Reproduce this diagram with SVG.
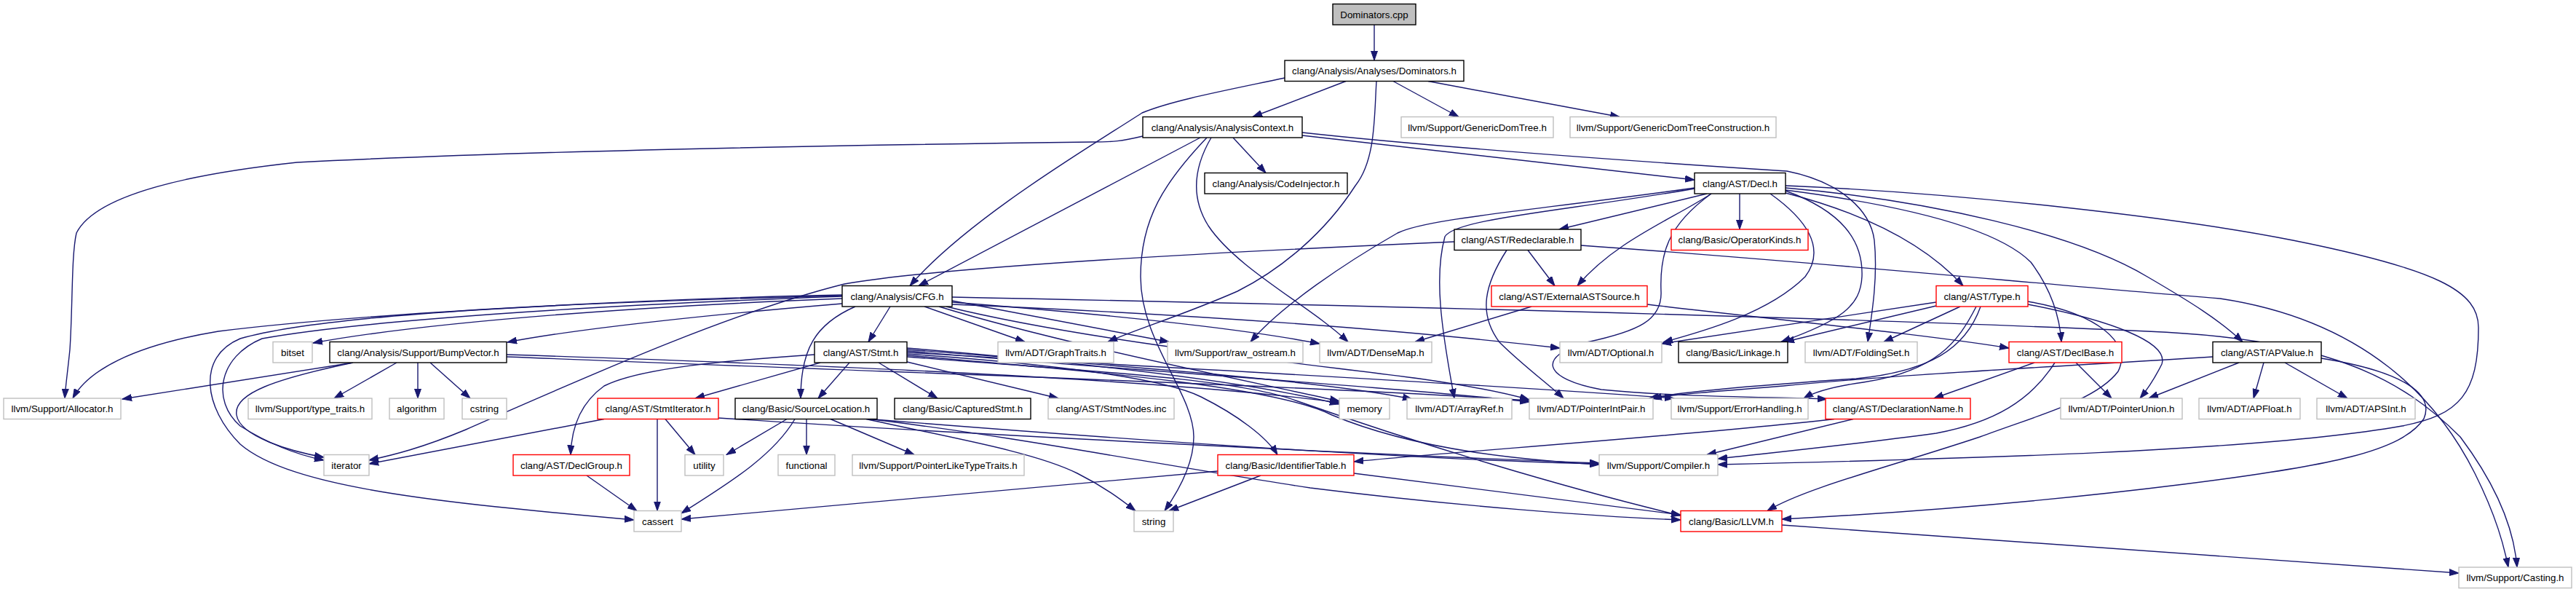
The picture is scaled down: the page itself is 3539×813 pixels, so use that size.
<svg xmlns="http://www.w3.org/2000/svg" width="3539" height="813" viewBox="0 0 3539 813">
<defs>
<marker id="a" markerWidth="14" markerHeight="10" refX="13" refY="5" orient="auto" markerUnits="userSpaceOnUse"><path d="M0,0.5 L13,5 L0,9.5 z" fill="#191970" stroke="#191970" stroke-width="1"/></marker>
</defs>
<style>
.e{fill:none;stroke:#191970;stroke-width:1.4;marker-end:url(#a)}
rect{fill:#fff;stroke-width:1.4}
.k rect{stroke:#000}
.g rect{stroke:#bfbfbf}
.r rect{stroke:#ff0000}
.root rect{fill:#bfbfbf;stroke:#000}
text{font-family:"Liberation Sans",Arial,Helvetica,sans-serif;font-size:13.33px;fill:#000;text-anchor:middle}
</style>
<rect x="0" y="0" width="3539" height="813" style="fill:#fff;stroke:none"/>
<g id="edges">
<path class="e" d="M1888,34 L1888,83"/>
<path class="e" d="M1849,111.5 L1721,160.5"/>
<path class="e" d="M1765,107 C1680,125 1610,138 1569,155 C1500,200 1330,300 1250,392.5"/>
<path class="e" d="M1649,189 L1262,392.5"/>
<path class="e" d="M1891,111.5 C1888,160 1890,220 1862,255 C1820,320 1760,370 1700,400 C1620,435 1560,452 1522,469.5"/>
<path class="e" d="M1914,111.5 L2004,160.5"/>
<path class="e" d="M1962,111.5 L2225,160.5"/>
<path class="e" d="M1694,189 L1739,237.5"/>
<path class="e" d="M1789,186 L2328,247"/>
<path class="e" d="M1789,182 C2000,205 2300,225 2455,235 C2530,250 2570,290 2575,330 C2580,380 2572,430 2566,469.5"/>
<path class="e" d="M1570,187 C1540,194 1530,195 1500,195 C1100,200 700,208 408,223 C250,240 130,270 105,320 C98,350 100,420 96,480 C93,510 90,530 89,547"/>
<path class="e" d="M1658,189 C1600,250 1567,300 1567,380 C1567,470 1640,540 1640,600 C1640,640 1615,680 1600,701.5"/>
<path class="e" d="M1664,189 C1640,230 1635,270 1660,310 C1700,370 1800,420 1852,469.5"/>
<path class="e" d="M2345,266 L2142,315"/>
<path class="e" d="M2390,266 L2390,315"/>
<path class="e" d="M2351,266 C2300,300 2220,330 2167,392.5"/>
<path class="e" d="M2099,343.5 L2136,392.5"/>
<path class="e" d="M2328,258 C2100,290 1960,300 1920,320 C1850,360 1760,420 1718,469.5"/>
<path class="e" d="M2328,259 C2150,290 2000,300 1985,325 C1970,380 1980,450 1998,547"/>
<path class="e" d="M2351,266 C2290,310 2280,350 2282,400 C2284,440 2250,455 2180,470 C2110,490 2120,520 2200,535 C2300,545 2420,545 2510,548"/>
<path class="e" d="M2432,266 C2480,300 2510,340 2480,380 C2430,430 2340,455 2285,470"/>
<path class="e" d="M2453,262 C2530,290 2560,330 2558,380 C2556,420 2530,440 2447,469.5"/>
<path class="e" d="M2453,265 C2550,290 2640,330 2697,392.5"/>
<path class="e" d="M2453,261 C2600,280 2740,310 2790,360 C2820,400 2830,440 2832,469.5"/>
<path class="e" d="M2453,258 C2650,275 2850,320 2950,380 C3010,415 3050,440 3081,469.5"/>
<path class="e" d="M2453,255 C2700,265 3000,300 3150,330 C3350,370 3405,400 3405,450 C3405,540 3380,570 3300,585 C3100,620 2700,630 2360,638"/>
<path class="e" d="M2070,343.5 C2040,390 2030,430 2060,470 C2090,500 2130,530 2148,547"/>
<path class="e" d="M1998,332 C1700,345 1300,365 1160,390 C1000,430 800,520 640,590 C580,615 540,625 507,632"/>
<path class="e" d="M2172,337 C2500,360 2800,390 3050,410 C3250,440 3350,550 3400,650 C3430,710 3440,750 3446,779"/>
<path class="e" d="M1308,408 C1800,418 2500,435 2950,455 C3200,465 3300,520 3380,600 C3440,680 3455,740 3458,779"/>
<path class="e" d="M2448,721 L3378,787"/>
<path class="e" d="M1223,421 L1193,469.5"/>
<path class="e" d="M1175,421 C1120,445 1100,480 1100,547"/>
<path class="e" d="M1270,421 L1408,469.5"/>
<path class="e" d="M1308,413 L1606,469.5"/>
<path class="e" d="M1308,415 C1500,430 1700,450 1813,472"/>
<path class="e" d="M1308,418 C1600,430 1900,450 2143,478"/>
<path class="e" d="M1300,421 C1500,470 1800,500 1950,520 C2020,530 2070,540 2101,549"/>
<path class="e" d="M1290,421 C1450,470 1700,520 1840,551"/>
<path class="e" d="M1157,405 C900,410 500,430 300,455 C180,475 120,510 100,547"/>
<path class="e" d="M1157,410 C900,420 600,440 430,471"/>
<path class="e" d="M1157,417 C1000,430 800,450 697,470"/>
<path class="e" d="M1157,407 C800,420 500,440 360,465 C300,490 290,550 330,585 C370,610 410,625 445,632"/>
<path class="e" d="M1157,406 C800,415 450,430 330,465 C270,490 280,560 330,610 C400,670 600,690 871,714"/>
<path class="e" d="M1167,498 L1124,547"/>
<path class="e" d="M1127,498 L955,547"/>
<path class="e" d="M1207,498 L1288,547"/>
<path class="e" d="M1246,497 L1454,547"/>
<path class="e" d="M1119,487 C1000,495 880,505 830,530 C795,555 785,590 784,624.5"/>
<path class="e" d="M1246,478 C1450,495 1700,520 1840,555"/>
<path class="e" d="M1246,480 C1500,500 1800,520 1940,548"/>
<path class="e" d="M1246,482 C1500,505 1900,530 2101,552"/>
<path class="e" d="M1246,484 C1600,505 2000,525 2300,547"/>
<path class="e" d="M1246,488 C1500,510 1750,530 1830,570 C1950,620 2100,632 2197,638"/>
<path class="e" d="M1246,490 C1500,510 1700,520 1780,550 C1950,610 2150,670 2309,708"/>
<path class="e" d="M1246,486 C1450,500 1600,520 1650,545 C1700,570 1740,600 1755,624.5"/>
<path class="e" d="M830,575.5 L507,637"/>
<path class="e" d="M903,575.5 L903,701.5"/>
<path class="e" d="M914,575.5 L955,624.5"/>
<path class="e" d="M987,574 C1300,595 1900,625 2197,636"/>
<path class="e" d="M1081,575.5 L998,624.5"/>
<path class="e" d="M1108,575.5 L1108,624.5"/>
<path class="e" d="M1141,575.5 L1256,624.5"/>
<path class="e" d="M1092,575.5 C1060,630 990,670 936,705"/>
<path class="e" d="M1190,575.5 C1300,600 1420,620 1480,650 C1520,670 1545,690 1560,701.5"/>
<path class="e" d="M1195,575.5 C1500,600 1900,630 2197,637"/>
<path class="e" d="M1195,575.5 C1400,600 1600,640 1800,670 C2000,695 2200,710 2309,714"/>
<path class="e" d="M1673,647 L936,713"/>
<path class="e" d="M1732,653 L1606,701.5"/>
<path class="e" d="M1860,650 L2309,707"/>
<path class="e" d="M2520,575.5 C2300,600 2000,620 1860,634"/>
<path class="e" d="M2546,575.5 L2345,624.5"/>
<path class="e" d="M2795,498 L2657,547"/>
<path class="e" d="M2823,498 C2790,550 2740,580 2660,595 C2550,610 2450,620 2360,630"/>
<path class="e" d="M2852,498 L2901,547"/>
<path class="e" d="M2660,420 L2452,469.5"/>
<path class="e" d="M2660,415 L2283,472"/>
<path class="e" d="M2693,421 L2588,469.5"/>
<path class="e" d="M2786,418 C2900,440 2980,470 2970,500 C2960,520 2950,535 2940,547"/>
<path class="e" d="M2786,414 C2880,430 2930,470 2910,510 C2880,550 2800,570 2720,600 C2600,640 2480,670 2428,701.5"/>
<path class="e" d="M2715,421 C2690,470 2660,510 2560,525 C2510,532 2490,540 2478,547"/>
<path class="e" d="M2721,421 C2700,480 2650,510 2550,520 C2400,530 2300,540 2266,547"/>
<path class="e" d="M2104,421 L1944,469.5"/>
<path class="e" d="M2263,418 C2450,440 2650,460 2760,478"/>
<path class="e" d="M485,498 L168,548"/>
<path class="e" d="M545,498 L459,547"/>
<path class="e" d="M574,498 L574,547"/>
<path class="e" d="M591,498 L646,547"/>
<path class="e" d="M485,498 C380,520 320,540 325,570 C330,600 400,620 445,628"/>
<path class="e" d="M696,487 C1100,500 1600,520 1840,553"/>
<path class="e" d="M696,490 C1200,510 1800,530 2101,550"/>
<path class="e" d="M3076,498 L2952,547"/>
<path class="e" d="M3110,498 L3096,547"/>
<path class="e" d="M3139,498 L3225,547"/>
<path class="e" d="M3040,490 C2800,505 2600,515 2450,530 C2350,538 2300,542 2270,547"/>
<path class="e" d="M3189,492 C3300,510 3345,540 3330,575 C3300,620 3200,640 3000,665 C2800,690 2600,705 2448,713"/>
<path class="e" d="M806,653 L875,701.5"/>
</g>
<g id="n-Dominators_cpp" class="root"><rect x="1831" y="5.5" width="114" height="28.5"/><text x="1888" y="24.5">Dominators.cpp</text></g>
<g id="n-Dominators_h" class="k"><rect x="1765" y="83" width="246" height="28.5"/><text x="1888" y="102">clang/Analysis/Analyses/Dominators.h</text></g>
<g id="n-AnalysisContext_h" class="k"><rect x="1570" y="160.5" width="219" height="28.5"/><text x="1679.5" y="179.5">clang/Analysis/AnalysisContext.h</text></g>
<g id="n-GenericDomTree_h" class="g"><rect x="1925" y="160.5" width="209" height="28.5"/><text x="2029.5" y="179.5">llvm/Support/GenericDomTree.h</text></g>
<g id="n-GenericDomTreeConstruction_h" class="g"><rect x="2157" y="160.5" width="283" height="28.5"/><text x="2298.5" y="179.5">llvm/Support/GenericDomTreeConstruction.h</text></g>
<g id="n-CodeInjector_h" class="k"><rect x="1655" y="237.5" width="196" height="28.5"/><text x="1753" y="256.5">clang/Analysis/CodeInjector.h</text></g>
<g id="n-Decl_h" class="k"><rect x="2328" y="237.5" width="125" height="28.5"/><text x="2390.5" y="256.5">clang/AST/Decl.h</text></g>
<g id="n-Redeclarable_h" class="k"><rect x="1998" y="315" width="174" height="28.5"/><text x="2085" y="334">clang/AST/Redeclarable.h</text></g>
<g id="n-OperatorKinds_h" class="r"><rect x="2296" y="315" width="188" height="28.5"/><text x="2390" y="334">clang/Basic/OperatorKinds.h</text></g>
<g id="n-CFG_h" class="k"><rect x="1157" y="392.5" width="151" height="28.5"/><text x="1232.5" y="411.5">clang/Analysis/CFG.h</text></g>
<g id="n-ExternalASTSource_h" class="r"><rect x="2049" y="392.5" width="214" height="28.5"/><text x="2156" y="411.5">clang/AST/ExternalASTSource.h</text></g>
<g id="n-Type_h" class="r"><rect x="2660" y="392.5" width="126" height="28.5"/><text x="2723" y="411.5">clang/AST/Type.h</text></g>
<g id="n-bitset" class="g"><rect x="375" y="469.5" width="54" height="28.5"/><text x="402" y="488.5">bitset</text></g>
<g id="n-BumpVector_h" class="k"><rect x="453" y="469.5" width="243" height="28.5"/><text x="574.5" y="488.5">clang/Analysis/Support/BumpVector.h</text></g>
<g id="n-Stmt_h" class="k"><rect x="1119" y="469.5" width="127" height="28.5"/><text x="1182.5" y="488.5">clang/AST/Stmt.h</text></g>
<g id="n-GraphTraits_h" class="g"><rect x="1371" y="469.5" width="159" height="28.5"/><text x="1450.5" y="488.5">llvm/ADT/GraphTraits.h</text></g>
<g id="n-raw_ostream_h" class="g"><rect x="1604" y="469.5" width="186" height="28.5"/><text x="1697" y="488.5">llvm/Support/raw_ostream.h</text></g>
<g id="n-DenseMap_h" class="g"><rect x="1813" y="469.5" width="154" height="28.5"/><text x="1890" y="488.5">llvm/ADT/DenseMap.h</text></g>
<g id="n-Optional_h" class="g"><rect x="2143" y="469.5" width="140" height="28.5"/><text x="2213" y="488.5">llvm/ADT/Optional.h</text></g>
<g id="n-Linkage_h" class="k"><rect x="2306" y="469.5" width="150" height="28.5"/><text x="2381" y="488.5">clang/Basic/Linkage.h</text></g>
<g id="n-FoldingSet_h" class="g"><rect x="2480" y="469.5" width="154" height="28.5"/><text x="2557" y="488.5">llvm/ADT/FoldingSet.h</text></g>
<g id="n-DeclBase_h" class="r"><rect x="2760" y="469.5" width="155" height="28.5"/><text x="2837.5" y="488.5">clang/AST/DeclBase.h</text></g>
<g id="n-APValue_h" class="k"><rect x="3040" y="469.5" width="149" height="28.5"/><text x="3114.5" y="488.5">clang/AST/APValue.h</text></g>
<g id="n-Allocator_h" class="g"><rect x="5" y="547" width="161" height="28.5"/><text x="85.5" y="566">llvm/Support/Allocator.h</text></g>
<g id="n-type_traits_h" class="g"><rect x="341" y="547" width="170" height="28.5"/><text x="426" y="566">llvm/Support/type_traits.h</text></g>
<g id="n-algorithm" class="g"><rect x="535" y="547" width="75" height="28.5"/><text x="572.5" y="566">algorithm</text></g>
<g id="n-cstring" class="g"><rect x="635" y="547" width="61" height="28.5"/><text x="665.5" y="566">cstring</text></g>
<g id="n-StmtIterator_h" class="r"><rect x="821" y="547" width="166" height="28.5"/><text x="904" y="566">clang/AST/StmtIterator.h</text></g>
<g id="n-SourceLocation_h" class="k"><rect x="1010" y="547" width="195" height="28.5"/><text x="1107.5" y="566">clang/Basic/SourceLocation.h</text></g>
<g id="n-CapturedStmt_h" class="k"><rect x="1229" y="547" width="187" height="28.5"/><text x="1322.5" y="566">clang/Basic/CapturedStmt.h</text></g>
<g id="n-StmtNodes_inc" class="g"><rect x="1440" y="547" width="173" height="28.5"/><text x="1526.5" y="566">clang/AST/StmtNodes.inc</text></g>
<g id="n-memory" class="g"><rect x="1840" y="547" width="69" height="28.5"/><text x="1874.5" y="566">memory</text></g>
<g id="n-ArrayRef_h" class="g"><rect x="1933" y="547" width="144" height="28.5"/><text x="2005" y="566">llvm/ADT/ArrayRef.h</text></g>
<g id="n-PointerIntPair_h" class="g"><rect x="2101" y="547" width="170" height="28.5"/><text x="2186" y="566">llvm/ADT/PointerIntPair.h</text></g>
<g id="n-ErrorHandling_h" class="g"><rect x="2296" y="547" width="188" height="28.5"/><text x="2390" y="566">llvm/Support/ErrorHandling.h</text></g>
<g id="n-DeclarationName_h" class="r"><rect x="2508" y="547" width="199" height="28.5"/><text x="2607.5" y="566">clang/AST/DeclarationName.h</text></g>
<g id="n-PointerUnion_h" class="g"><rect x="2831" y="547" width="167" height="28.5"/><text x="2914.5" y="566">llvm/ADT/PointerUnion.h</text></g>
<g id="n-APFloat_h" class="g"><rect x="3021" y="547" width="139" height="28.5"/><text x="3090.5" y="566">llvm/ADT/APFloat.h</text></g>
<g id="n-APSInt_h" class="g"><rect x="3183" y="547" width="135" height="28.5"/><text x="3250.5" y="566">llvm/ADT/APSInt.h</text></g>
<g id="n-iterator" class="g"><rect x="445" y="624.5" width="62" height="28.5"/><text x="476" y="643.5">iterator</text></g>
<g id="n-DeclGroup_h" class="r"><rect x="705" y="624.5" width="160" height="28.5"/><text x="785" y="643.5">clang/AST/DeclGroup.h</text></g>
<g id="n-utility" class="g"><rect x="941" y="624.5" width="53" height="28.5"/><text x="967.5" y="643.5">utility</text></g>
<g id="n-functional" class="g"><rect x="1069" y="624.5" width="78" height="28.5"/><text x="1108" y="643.5">functional</text></g>
<g id="n-PointerLikeTypeTraits_h" class="g"><rect x="1171" y="624.5" width="236" height="28.5"/><text x="1289" y="643.5">llvm/Support/PointerLikeTypeTraits.h</text></g>
<g id="n-IdentifierTable_h" class="r"><rect x="1673" y="624.5" width="187" height="28.5"/><text x="1766.5" y="643.5">clang/Basic/IdentifierTable.h</text></g>
<g id="n-Compiler_h" class="g"><rect x="2197" y="624.5" width="163" height="28.5"/><text x="2278.5" y="643.5">llvm/Support/Compiler.h</text></g>
<g id="n-cassert" class="g"><rect x="871" y="701.5" width="65" height="28.5"/><text x="903.5" y="720.5">cassert</text></g>
<g id="n-string" class="g"><rect x="1558" y="701.5" width="54" height="28.5"/><text x="1585" y="720.5">string</text></g>
<g id="n-LLVM_h" class="r"><rect x="2309" y="701.5" width="139" height="28.5"/><text x="2378.5" y="720.5">clang/Basic/LLVM.h</text></g>
<g id="n-Casting_h" class="g"><rect x="3378" y="779" width="155" height="28.5"/><text x="3455.5" y="798">llvm/Support/Casting.h</text></g>
</svg>
